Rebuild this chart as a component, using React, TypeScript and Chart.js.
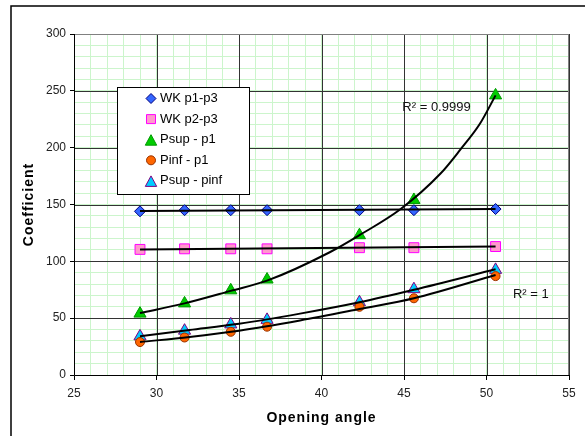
import React, { useEffect, useRef } from "react";
import { Chart, registerables } from "chart.js";

Chart.register(...registerables);

// ---- data ----
const angles = [29.0, 31.7, 34.5, 36.7, 42.3, 45.6, 50.55];
const wkP1P3 = [144, 145, 145, 145, 145, 145, 146];
const wkP2P3 = [110.5, 111, 111, 111, 112, 112, 113];
const psupP1 = [54, 63, 74.5, 84, 123, 154, 246];
const pinfP1 = [29, 33, 38, 42.5, 60, 67.5, 87];
const psupPinf = [34, 39, 44.5, 48.5, 64, 75.5, 92.5];

// trendlines
const trendWkX = [29.0, 50.55];
const trendWkP1P3 = [144.3, 146];
const trendWkP2P3 = [110.5, 113];
const trendPsupP1X = [29.0, 31.7, 34.5, 36.7, 40.5, 42.3, 44.8, 47.2, 48.4, 49.6, 50.55];
const trendPsupP1 = [54.5, 63, 74, 83, 108, 123, 146, 177, 198, 221, 246];
const trendLowX = [29.0, 32, 35, 38.7, 42.3, 45.6, 50.55];
const trendPinfP1 = [29, 33.5, 39, 48, 58, 67.5, 88];
const trendPsupPinf = [34, 39.5, 45, 54, 64, 75, 93];

const seriesNames = ["WK p1-p3", "WK p2-p3", "Psup - p1", "Pinf - p1", "Psup - pinf"];
const r2Labels = ["R\u00B2 = 0.9999", "R\u00B2 = 1"];
const xTitle = "Opening angle";
const yTitle = "Coefficient";

const xMin = 25, xMax = 55, yMin = 0, yMax = 300;
const xMajor = 5, yMajor = 50;

const pts = (xs: number[], ys: number[]) => xs.map((x, i) => ({ x, y: ys[i] }));

const styles = [
  { pointStyle: "rectRot", bg: "#3366ff", border: "#000080", r: 5.5 },
  { pointStyle: "rect", bg: "#ff99cc", border: "#ff00ff", r: 7 },
  { pointStyle: "triangle", bg: "#00cc00", border: "#009900", r: 7 },
  { pointStyle: "circle", bg: "#ff6600", border: "#993300", r: 4.5 },
  { pointStyle: "triangle", bg: "#00ccff", border: "#800080", r: 7 },
];

function marker(ctx: CanvasRenderingContext2D, kind: string, x: number, y: number, s: number) {
  ctx.beginPath();
  if (kind === "rectRot") {
    ctx.moveTo(x, y - s);
    ctx.lineTo(x + s, y);
    ctx.lineTo(x, y + s);
    ctx.lineTo(x - s, y);
    ctx.closePath();
  } else if (kind === "rect") {
    ctx.rect(x - s, y - s, 2 * s, 2 * s);
  } else if (kind === "triangle") {
    ctx.moveTo(x, y - s);
    ctx.lineTo(x + s * 0.95, y + s * 0.75);
    ctx.lineTo(x - s * 0.95, y + s * 0.75);
    ctx.closePath();
  } else {
    ctx.arc(x, y, s, 0, Math.PI * 2);
  }
  ctx.fill();
  ctx.stroke();
}

export default function App() {
  const ref = useRef<HTMLCanvasElement>(null);
  useEffect(() => {
    if (!ref.current) return;
    const values = [wkP1P3, wkP2P3, psupP1, pinfP1, psupPinf];
    const scatter = values.map((v, i) => ({
      type: "scatter" as const,
      label: seriesNames[i],
      data: pts(angles, v),
      pointStyle: styles[i].pointStyle,
      pointRadius: styles[i].r,
      pointBackgroundColor: styles[i].bg,
      pointBorderColor: styles[i].border,
      pointBorderWidth: 1,
      showLine: false,
      order: 5,
    }));
    const trendDefs: [number[], number[]][] = [
      [trendWkX, trendWkP1P3],
      [trendWkX, trendWkP2P3],
      [trendPsupP1X, trendPsupP1],
      [trendLowX, trendPinfP1],
      [trendLowX, trendPsupPinf],
    ];
    const trends = trendDefs.map(([xs, ys], i) => ({
      type: "line" as const,
      label: "trend" + i,
      data: pts(xs, ys),
      borderColor: "#000000",
      borderWidth: 2,
      pointRadius: 0,
      fill: false,
      showLine: true,
      cubicInterpolationMode: "monotone" as const,
      order: 0,
    }));

    const decor = {
      id: "decor",
      beforeDraw(chart: any) {
        const ctx = chart.ctx;
        ctx.save();
        ctx.fillStyle = "#ffffff";
        ctx.fillRect(0, 0, chart.width, chart.height);
        ctx.strokeStyle = "#000000";
        ctx.lineWidth = 1.5;
        ctx.beginPath();
        ctx.moveTo(11, 436);
        ctx.lineTo(11, 6);
        ctx.lineTo(585, 6);
        ctx.stroke();
        ctx.restore();
      },
      beforeDatasetsDraw(chart: any) {
        const ctx = chart.ctx;
        const ca = chart.chartArea;
        const xs = chart.scales.x;
        const ys = chart.scales.y;
        ctx.save();
        ctx.strokeStyle = "#333333";
        ctx.lineWidth = 1;
        ctx.beginPath();
        for (let v = xMin; v <= xMax; v += xMajor) {
          const px = Math.round(xs.getPixelForValue(v)) + 0.5;
          ctx.moveTo(px, ca.top);
          ctx.lineTo(px, ca.bottom);
        }
        for (let v = yMin; v <= yMax; v += yMajor) {
          const py = Math.round(ys.getPixelForValue(v)) + 0.5;
          ctx.moveTo(ca.left, py);
          ctx.lineTo(ca.right, py);
        }
        ctx.stroke();
        // plot border
        ctx.strokeStyle = "#808080";
        ctx.strokeRect(ca.left + 0.5, ca.top + 0.5, ca.right - ca.left - 1, ca.bottom - ca.top);
        // axis lines
        ctx.strokeStyle = "#000000";
        ctx.beginPath();
        ctx.moveTo(ca.left + 0.5, ca.top);
        ctx.lineTo(ca.left + 0.5, ca.bottom + 0.5);
        ctx.lineTo(ca.right, ca.bottom + 0.5);
        ctx.stroke();
        ctx.restore();
      },
      afterDraw(chart: any) {
        const ctx = chart.ctx;
        const ca = chart.chartArea;
        const xs = chart.scales.x;
        const ys = chart.scales.y;
        ctx.save();

        // axis titles
        ctx.fillStyle = "#000000";
        ctx.font = "bold 14px 'Liberation Sans', Arial, sans-serif";
        ctx.textAlign = "center";
        ctx.textBaseline = "middle";
        (ctx as any).letterSpacing = "1px";
        ctx.fillText(xTitle, (ca.left + ca.right) / 2, 418);
        ctx.save();
        ctx.translate(29, (ca.top + ca.bottom) / 2);
        ctx.rotate(-Math.PI / 2);
        ctx.fillText(yTitle, 0, 0);
        ctx.restore();
        (ctx as any).letterSpacing = "0px";

        // R² labels
        ctx.font = "13px 'Liberation Sans', Arial, sans-serif";
        ctx.fillStyle = "#111111";
        ctx.textAlign = "left";
        ctx.fillText(r2Labels[0], xs.getPixelForValue(44.9), ys.getPixelForValue(235));
        ctx.fillText(r2Labels[1], xs.getPixelForValue(51.6), ys.getPixelForValue(71));

        // legend
        const lx = 117, ly = 87, lw = 132, lh = 107;
        ctx.fillStyle = "#ffffff";
        ctx.fillRect(lx, ly, lw, lh);
        ctx.strokeStyle = "#000000";
        ctx.lineWidth = 1;
        ctx.strokeRect(lx + 0.5, ly + 0.5, lw, lh);
        ctx.font = "13px 'Liberation Sans', Arial, sans-serif";
        ctx.textBaseline = "middle";
        seriesNames.forEach((name, i) => {
          const cy = 98.5 + i * 20.6;
          const st = styles[i];
          ctx.fillStyle = st.bg;
          ctx.strokeStyle = st.border;
          ctx.lineWidth = 1;
          const s = st.pointStyle === "rect" ? 4.5 : st.pointStyle === "triangle" ? 6 : st.pointStyle === "circle" ? 4.5 : 5;
          marker(ctx, st.pointStyle, 151, cy + (st.pointStyle === "triangle" ? 1 : 0), s);
          ctx.fillStyle = "#000000";
          ctx.fillText(name, 160, cy);
        });
        ctx.restore();
      },
    };

    const chart = new Chart(ref.current, {
      type: "scatter",
      data: { datasets: [...scatter, ...trends] as any },
      options: {
        animation: false,
        responsive: false,
        maintainAspectRatio: false,
        layout: { padding: { left: 0, top: 34, right: 16, bottom: 0 } },
        plugins: { legend: { display: false }, tooltip: { enabled: false }, title: { display: false } },
        scales: {
          x: {
            type: "linear",
            min: xMin,
            max: xMax,
            afterFit: (s: any) => { s.height = 61; },
            ticks: {
              stepSize: 1,
              autoSkip: false,
              maxRotation: 0,
              padding: 6,
              color: "#222222",
              font: { family: "'Liberation Sans', Arial, sans-serif", size: 12 },
              callback: (v: any) => (Number(v) % xMajor === 0 ? String(v) : ""),
            },
            grid: {
              color: "#ccf5cc",
              tickColor: (c: any) => (c.tick && c.tick.value % xMajor === 0 ? "#000000" : "rgba(0,0,0,0)"),
              tickLength: 5,
              lineWidth: 1,
            },
            border: { display: false },
          },
          y: {
            type: "linear",
            min: yMin,
            max: yMax,
            afterFit: (s: any) => { s.width = 74; },
            ticks: {
              stepSize: 10,
              autoSkip: false,
              padding: 4,
              color: "#222222",
              font: { family: "'Liberation Sans', Arial, sans-serif", size: 12 },
              callback: (v: any) => (Number(v) % yMajor === 0 ? String(v) : ""),
            },
            grid: {
              color: "#ccf5cc",
              tickColor: (c: any) => (c.tick && c.tick.value % yMajor === 0 ? "#000000" : "rgba(0,0,0,0)"),
              tickLength: 4,
              lineWidth: 1,
            },
            border: { display: false },
          },
        },
      },
      plugins: [decor],
    });
    return () => chart.destroy();
  }, []);
  return (
    <div style={{ position: "fixed", left: 0, top: 0, width: 585, height: 436, background: "#fff" }}>
      <canvas ref={ref} width={585} height={436} style={{ display: "block" }} />
    </div>
  );
}
